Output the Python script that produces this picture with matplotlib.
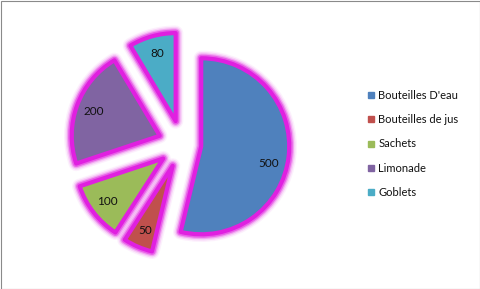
import matplotlib
matplotlib.use("Agg")
import matplotlib.pyplot as plt
from matplotlib.lines import Line2D
from matplotlib.patches import Rectangle
from matplotlib.transforms import ScaledTranslation

categories = ["Bouteilles D'eau", "Bouteilles de jus", "Sachets", "Limonade", "Goblets"]
values = [500, 50, 100, 200, 80]
colors = ["#4F81BD", "#C0504D", "#9BBB59", "#8064A2", "#4BACC6"]
explode = [0.22, 0.27, 0.27, 0.27, 0.27]

plt.rcParams['font.family'] = ['Lato', 'DejaVu Sans']

W, H = 481, 289
fig = plt.figure(figsize=(W / 100, H / 100), dpi=100)
fig.patch.set_facecolor('white')

# pie axes: centre at px (182,144 from top), radius 88 px
r_px = 88
lim = 1.6
aw = 2 * lim * r_px
cx, cy = 182, H - 144
ax = fig.add_axes([(cx - aw / 2) / W, (cy - aw / 2) / H, aw / W, aw / H])

for lw, a in [(11, 0.07), (9, 0.14), (7, 0.28), (5.2, 0.55)]:
    wedges, _ = ax.pie(values, explode=explode, startangle=90, counterclock=False,
                       colors=colors,
                       wedgeprops=dict(linewidth=lw, joinstyle='round'))
    for w in wedges:
        w.set_facecolor('none')
        w.set_edgecolor((0.886, 0.169, 0.886, a))

wedges, texts, autotexts = ax.pie(
    values, explode=explode, startangle=90, counterclock=False, colors=colors,
    autopct=lambda p: f"{round(p * sum(values) / 100):d}", pctdistance=0.8,
    wedgeprops=dict(edgecolor="#E020E0", linewidth=3.0, joinstyle='round'),
    textprops=dict(fontsize=8.5, color='#111111'))
# Excel "best fit" nudges the large slice's label a little lower
autotexts[0].set_transform(autotexts[0].get_transform() +
                           ScaledTranslation(-0.03, -0.09, fig.dpi_scale_trans))

ax.set_aspect('auto')
ax.set_xlim(-lim, lim)
ax.set_ylim(-lim, lim)
ax.axis('off')

handles = [Line2D([], [], marker='s', linestyle='none', markersize=4.6,
                  markerfacecolor=c, markeredgecolor=c) for c in colors]
leg = fig.legend(handles, categories, loc='center left',
                 bbox_to_anchor=(362 / W, (H - 144) / H), frameon=False,
                 fontsize=8, labelspacing=1.2, handlelength=0.6,
                 handletextpad=0.35, borderpad=0)
for t in leg.get_texts():
    t.set_color('#111111')

fig.patches.append(Rectangle((0.5 / W, 0.5 / H), 1 - 1.5 / W, 1 - 1.5 / H,
                             transform=fig.transFigure, fill=False,
                             edgecolor='#8a8a8a', linewidth=0.8))

fig.savefig('out.png', dpi=100)
